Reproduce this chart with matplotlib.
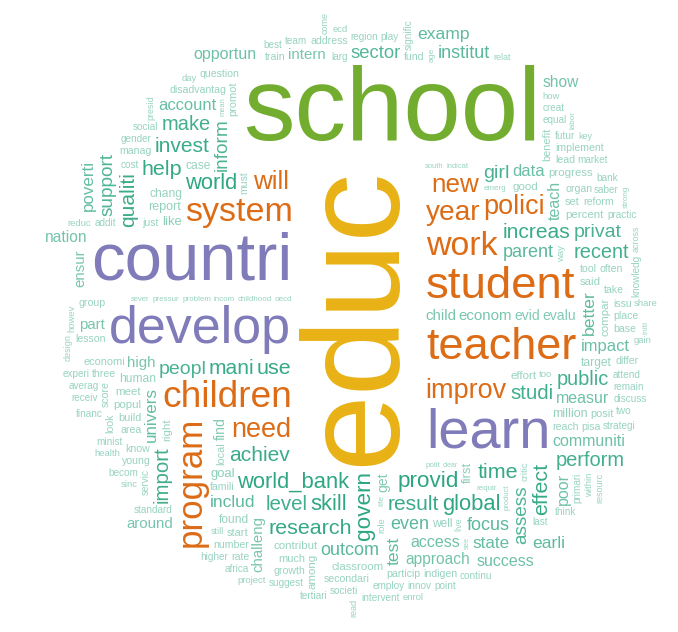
# word cloud of stemmed terms (education corpus), laid out greedily from the centre
import numpy as np
import matplotlib
matplotlib.use("Agg")
import matplotlib.pyplot as plt
from matplotlib.textpath import TextPath
from matplotlib.font_manager import FontProperties

top_words = ["educ", "school", "countri", "develop", "learn", "student", "teacher", "children", "program",
             "system", "work", "year", "polici", "need", "improv", "new", "will"]
top_counts = [1380, 1030, 670, 520, 560, 455, 452, 370, 350,
              340, 340, 280, 270, 270, 270, 260, 260]

mid_words = ["provid", "govern", "world_bank", "global", "skill", "world",
             "effect", "time", "research", "help", "use",
             "achiev", "result", "invest", "mani", "increas", "qualiti",
             "level", "studi", "import", "make", "perform", "public", "recent",
             "privat", "girl", "peopl", "inform", "support", "assess", "sector",
             "institut", "parent", "focus", "even", "outcom",
             "earli", "includ", "examp", "test", "better", "univers", "poverti", "state"]
mid_counts = [225, 225, 220, 220, 220, 220,
              215, 215, 215, 215, 215,
              210, 210, 210, 210, 210, 210,
              205, 205, 205, 200, 200, 200, 200,
              195, 195, 195, 190, 190, 190, 185,
              180, 180, 180, 180, 180,
              175, 175, 175, 175, 175, 170, 170, 170]

small_words = ["data", "impact", "account", "access", "success", "communiti", "measur", "poor", "opportun", "teach",
               "show", "approach", "nation", "around", "challeng", "intern", "child", "econom", "ensur", "part", "high",
               "evid", "get", "evalu", "find", "goal", "first", "like", "million", "report",
               "well", "case", "human", "target", "chang", "found",
               "effort", "good", "contribut", "said", "meet", "compar", "popul", "among", "percent", "right",
               "classroom", "progress",
               "local", "set", "promot", "start", "benefit", "economi", "posit", "build", "much"]
small_counts = [165, 165, 165, 160, 160, 160, 160, 160, 160, 160,
                155, 155, 155, 150, 150, 150, 150, 150, 150, 150, 150,
                140, 140, 140, 140, 130, 130, 130, 125, 125,
                120, 120, 120, 120, 120, 120,
                115, 115, 115, 115, 115, 115, 115, 115, 115, 115,
                115, 115,
                110, 110, 110, 110, 110, 110, 110, 110, 110]

tiny_words = ["tool", "famili", "reach", "organ", "area", "often", "disadvantag", "secondari", "must", "three",
              "pisa", "address", "number", "take", "know", "particip", "lead", "young", "base", "fund",
              "growth", "reform", "group", "indigen", "train", "score", "place", "manag", "just", "implement",
              "lesson", "issu", "question", "rate", "differ", "look",
              "employ", "futur", "servic", "attend", "larg", "societi", "knowledg", "addit", "last", "region",
              "suggest", "remain", "gender", "innov", "equal", "minist", "strategi", "cost", "africa", "saber",
              "averag", "continu", "signific", "standard", "discuss", "social", "intervent", "market", "becom", "primari",
              "team", "higher", "practic", "receiv", "point", "creat", "financ", "two", "best", "tertiari",
              "bank", "experi", "think", "play",
              "sinc", "share", "role", "enrol", "how", "howev", "too", "way", "project", "critic",
              "reduc", "within", "ecd", "health", "gain", "day",
              "still", "key", "design", "resourc", "come", "live", "across", "presid", "read", "relat",
              "life", "initi", "age",
              "oecd", "strong", "childhood", "incom", "problem", "polit", "emerg", "pressur", "requir", "labor",
              "south", "product", "mean", "see", "indicat", "sever", "clear"]
tiny_counts = [105, 105, 105, 105, 105, 105, 105, 105, 105, 105,
               105, 105, 105, 105, 105, 105, 105, 105, 105, 105,
               105, 105, 105, 105, 105, 105, 105, 105, 105, 105,
               105, 105, 105, 105, 105, 105,
               100, 100, 100, 100, 100, 100, 100, 100, 100, 100,
               100, 100, 100, 100, 100, 100, 100, 100, 100, 100,
               100, 100, 100, 100, 100, 100, 100, 100, 100, 100,
               100, 100, 100, 100, 100, 100, 100, 100, 100, 100,
               100, 100, 100, 100,
               95, 95, 95, 95, 95, 95, 95, 95, 95, 95,
               95, 95, 95, 95, 95, 95,
               90, 90, 90, 90, 90, 90, 90, 90, 90, 90,
               85, 85, 85,
               80, 80, 80, 80, 80, 80, 80, 80, 80, 80,
               75, 75, 75, 75, 75, 75, 70]

# words drawn rotated (reading bottom to top)
vertical = {"educ", "program", "govern", "effect", "qualiti", "import", "inform", "support", "assess", "test",
            "better", "univers", "poverti", "poor", "teach", "challeng", "ensur", "get", "find", "first",
            "compar", "among", "right", "local", "promot", "benefit", "must", "score", "look", "servic",
            "knowledg", "signific", "primari", "role", "howev", "way", "critic", "within", "design", "resourc",
            "come", "live", "across", "presid", "read", "life", "initi", "age", "strong", "labor",
            "product", "mean", "see"}

# preferred direction (deg, from the cloud centre) when searching a free spot
angle_hint = {"educ": 0, "school": 81, "countri": 162, "develop": 185, "learn": -42, "student": 12,
              "teacher": -12, "children": 212, "program": 225, "system": 145, "work": 25, "year": 55,
              "polici": 35, "new": 51, "will": 123, "need": 239, "improv": 310,
              "provid": 293, "govern": 272, "world_bank": 251, "global": 301, "skill": 261, "world": 138,
              "effect": 317, "time": 312, "research": 258, "help": 143, "use": 233, "achiev": 243,
              "result": 289, "invest": 136, "mani": 209, "increas": 34, "qualiti": 153, "level": 256,
              "studi": 336, "import": 219, "make": 132, "perform": 328, "public": 347, "recent": 14,
              "privat": 19, "girl": 46, "peopl": 197, "inform": 139, "support": 152, "assess": 315,
              "sector": 86, "institut": 68, "parent": 26, "focus": 309, "even": 284, "outcom": 268,
              "earli": 310, "includ": 232, "examp": 73, "test": 279, "better": 1, "univers": 208,
              "poverti": 154, "state": 306,
              "data": 43, "impact": 353, "account": 129, "access": 289, "success": 301, "communiti": 328,
              "measur": 343, "poor": 320, "opportun": 117, "teach": 26, "show": 49, "approach": 287,
              "nation": 165, "around": 225, "challeng": 249, "intern": 101, "child": 98, "econom": 35,
              "ensur": 170, "part": 182, "high": 186}

dark2 = ["#1B9E77", "#D95F02", "#7570B3", "#E7298A", "#66A61E", "#E6AB02"]

words = top_words + mid_words + small_words + tiny_words
counts = top_counts + mid_counts + small_counts + tiny_counts
order = np.argsort(-np.array(counts), kind="stable")
fmax = max(counts)

W, H = 678, 632
cx, cy = 358, 316
pad = 1
fp = FontProperties(family="Liberation Sans")

fig = plt.figure(figsize=(6.78, 6.32), dpi=100)
ax = fig.add_axes([0, 0, 1, 1])
ax.set_xlim(0, W)
ax.set_ylim(0, H)
ax.axis("off")

grid = np.zeros((H, W), dtype=np.int32)
for n, i in enumerate(order):
    w, f = words[i], counts[i]
    px = 138 * f / fmax
    e = TextPath((0, 0), w, size=px, prop=fp).get_extents()
    lp = TextPath((0, 0), "lp", size=px, prop=fp).get_extents()
    # box: ink width plus bearings, full line height (like the text's own bbox)
    ex0, ex1 = min(e.x0, 0) - 0.02 * px, e.x1 + 0.05 * px
    ey0, ey1 = min(e.y0, lp.y0), max(e.y1, lp.y1)
    if w in vertical:
        bx0, by0, bx1, by1 = -ey1, ex0, -ey0, ex1
    else:
        bx0, by0, bx1, by1 = ex0, ey0, ex1, ey1
    bw = int(np.ceil(bx1 - bx0)) + 2 * pad
    bh = int(np.ceil(by1 - by0)) + 2 * pad
    nx, ny = W - bw + 1, H - bh + 1
    if nx <= 0 or ny <= 0:
        continue
    S = np.zeros((H + 1, W + 1), dtype=np.int64)
    S[1:, 1:] = grid.cumsum(0).cumsum(1)
    tot = S[bh:bh + ny, bw:bw + nx] - S[0:ny, bw:bw + nx] - S[bh:bh + ny, 0:nx] + S[0:ny, 0:nx]
    gy, gx = np.nonzero(tot == 0)
    if len(gx) == 0:
        continue
    dx = gx + bw / 2 - cx
    dy = gy + bh / 2 - cy
    r = np.hypot(dx, dy)
    if w in angle_hint:
        pref, wt = np.radians(angle_hint[w]), 4.0
    else:
        pref, wt = np.radians(n * 137.5), 0.15
    dev = np.abs((np.arctan2(dy, dx) - pref + np.pi) % (2 * np.pi) - np.pi)
    k = np.argmin(r * (1 + wt * dev / np.pi))
    x0, y0 = gx[k], gy[k]
    grid[y0:y0 + bh, x0:x0 + bw] = 1

    c = dark2[int(np.ceil(6 * f / fmax - 1e-9)) - 1]
    alpha = float(np.clip((px - 2) / 22, 0.45, 0.92))
    ax.text(x0 + pad - bx0, y0 + pad - by0, w, fontproperties=fp, fontsize=px * 72 / 100,
            rotation=90 if w in vertical else 0, rotation_mode="anchor",
            ha="left", va="baseline", color=c, alpha=alpha)

fig.savefig("out.png", dpi=100, facecolor="white")
